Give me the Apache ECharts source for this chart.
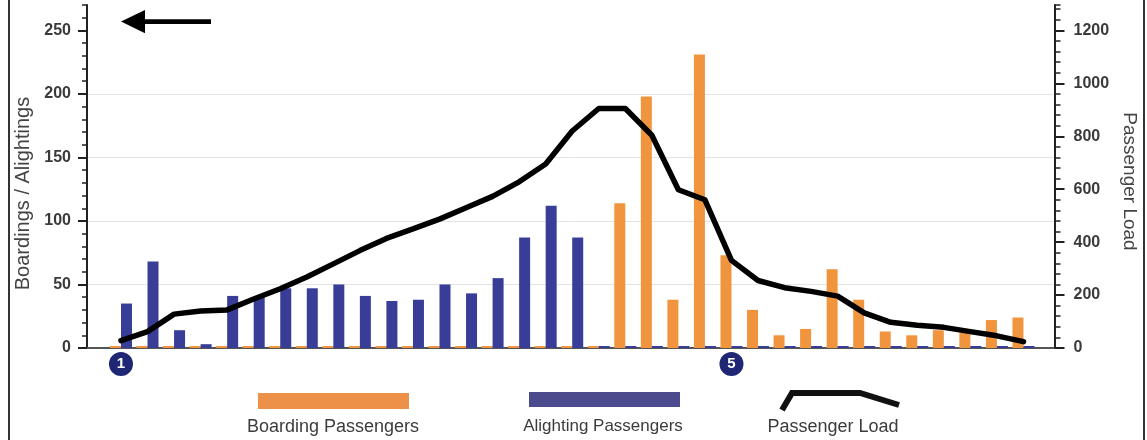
<!DOCTYPE html>
<html><head><meta charset="utf-8">
<script src="https://cdn.jsdelivr.net/npm/echarts@6/dist/echarts.min.js"></script>
<style>html,body{margin:0;padding:0;background:#fff}#c{width:1147px;height:440px}</style>
</head><body><div id="c"></div>
<script>
// ---- data ----
const stops = ['1','2','3','4','5','6','7','8','9','10','11','12','13','14','15','16','17','18','19','20','21','22','23','24','25','26','27','28','29','30','31','32','33','34','35'];
const boarding = [0,0,0,0,0,0,0,0,0,0,0,0,0,0,0,0,0,0,0,114,198,38,231,73,30,10,15,62,38,13,10,14,12,22,24];
const alighting = [35,68,14,3,41,40,47,47,50,41,37,38,50,43,55,87,112,87,0,0,0,0,0,0,0,0,0,0,0,0,0,0,0,0,0];
const load = [28,62,128,140,144,185,224,268,318,368,414,450,487,530,573,628,695,820,905,905,804,598,560,331,255,228,214,196,133,97,86,78,62,46,24];
const leftTicks = [0,50,100,150,200,250];
const rightTicks = [0,200,400,600,800,1000,1200];
const timepointStops = [0,23];
const timepointLabels = ['1','5'];
const seriesNames = ['Boarding Passengers','Alighting Passengers','Passenger Load'];
const axisNames = ['Boardings / Alightings','Passenger Load'];

const FONT = '"Liberation Sans", Arial, sans-serif';
const ORANGE = '#F0953D', BLUE = '#383D98';

const chart = echarts.init(document.getElementById('c'), null, {renderer:'canvas'});
const pts = arr => arr.map((v,i)=>[i,v]);

const labelStyle = {fontFamily:FONT, fontSize:16, fontWeight:'bold', color:'#3a3a3a', formatter:v=>String(v)};

chart.setOption({
  animation:false,
  backgroundColor:'#fff',
  grid:{left:87, right:92, top:5, bottom:92},
  xAxis:{
    type:'value', min:-1.28, max:35.17,
    axisLine:{show:true, onZero:true, lineStyle:{color:'#555', width:2}},
    axisTick:{show:false}, splitLine:{show:false},
    axisLabel:{
      customValues:timepointStops,
      formatter:v=>{const k=timepointStops.indexOf(Math.round(v)); return k>=0?timepointLabels[k]:'';},
      backgroundColor:'#1F2775', borderRadius:12, width:24, height:24, lineHeight:24,
      align:'center', color:'#fff', fontWeight:'bold', fontSize:15, fontFamily:FONT, margin:4
    }
  },
  yAxis:[
    { type:'value', position:'left', min:0, max:270, interval:50,
      name:axisNames[0], nameLocation:'middle', nameGap:50, nameRotate:90,
      nameTextStyle:{fontFamily:FONT, fontSize:20, color:'#444', padding:[0,34,0,0]},
      axisLine:{show:true, onZero:false, lineStyle:{color:'#222', width:2}},
      axisTick:{show:true, length:9, customValues:leftTicks, lineStyle:{color:'#222', width:2}},
      axisLabel:Object.assign({customValues:leftTicks, margin:16}, labelStyle),
      splitLine:{show:true, showMaxLine:false, lineStyle:{color:'#e3e3e3', width:1}}
    },
    { type:'value', position:'right', min:0, max:1296, interval:200,
      name:axisNames[1], nameLocation:'middle', nameGap:60, nameRotate:-90,
      nameTextStyle:{fontFamily:FONT, fontSize:19, color:'#444', padding:[0,0,0,10]},
      axisLine:{show:true, onZero:false, lineStyle:{color:'#222', width:2}},
      axisTick:{show:true, length:10, customValues:rightTicks, lineStyle:{color:'#222', width:2}},
      axisLabel:Object.assign({customValues:rightTicks, margin:19}, labelStyle),
      splitLine:{show:false}
    },
    { type:'value', position:'left', min:0, max:270, interval:10,
      axisLine:{show:false, onZero:false}, axisLabel:{show:false}, splitLine:{show:false},
      axisTick:{show:true, length:5, lineStyle:{color:'#222', width:1.5}}
    },
    { type:'value', position:'right', min:0, max:1296, interval:40,
      axisLine:{show:false, onZero:false}, axisLabel:{show:false}, splitLine:{show:false},
      axisTick:{show:true, length:6, lineStyle:{color:'#222', width:1.5}}
    }
  ],
  series:[
    { name:seriesNames[0], type:'bar', yAxisIndex:0, data:pts(boarding),
      barWidth:11, barGap:'0%', barMinHeight:2, itemStyle:{color:ORANGE}, z:2 },
    { name:seriesNames[1], type:'bar', yAxisIndex:0, data:pts(alighting),
      barWidth:11, barGap:'0%', barMinHeight:2, itemStyle:{color:BLUE}, z:2 },
    { name:seriesNames[2], type:'line', yAxisIndex:1, data:pts(load),
      symbol:'none', lineStyle:{color:'#000', width:5.5, cap:'round', join:'round'}, z:5 }
  ],
  graphic:[
    // frame
    {type:'line', shape:{x1:9,y1:0,x2:9,y2:440}, style:{stroke:'#333', lineWidth:2}},
    {type:'line', shape:{x1:1144,y1:0,x2:1144,y2:440}, style:{stroke:'#333', lineWidth:2}},
    // direction arrow
    {type:'rect', shape:{x:140,y:19.3,width:71,height:4.6}, style:{fill:'#000'}},
    {type:'polygon', shape:{points:[[121,21.6],[145,10],[145,33.2]]}, style:{fill:'#000'}},
    // legend
    {type:'rect', shape:{x:258,y:393,width:151,height:16}, style:{fill:'#EE9148'}},
    {type:'text', x:333, y:427, style:{text:seriesNames[0], font:'18px '+FONT, fill:'#3c3c3c', align:'center', verticalAlign:'middle'}},
    {type:'rect', shape:{x:529,y:392,width:151,height:15}, style:{fill:'#4A4A8C'}},
    {type:'text', x:603, y:426, style:{text:seriesNames[1], font:'17px '+FONT, fill:'#3c3c3c', align:'center', verticalAlign:'middle'}},
    {type:'polyline', shape:{points:[[782,410],[792,393],[860,393],[899,405]]}, style:{stroke:'#111', lineWidth:6, fill:null}},
    {type:'text', x:833, y:427, style:{text:seriesNames[2], font:'18px '+FONT, fill:'#3c3c3c', align:'center', verticalAlign:'middle'}}
  ]
});
</script></body></html>
